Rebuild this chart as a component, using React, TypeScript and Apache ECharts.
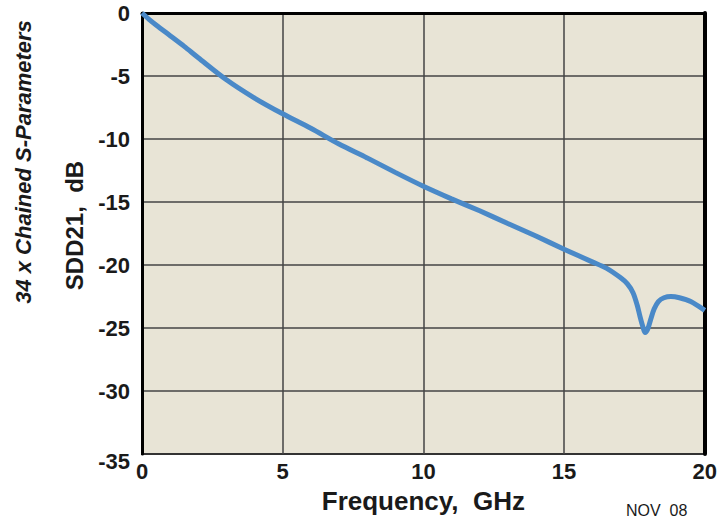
import React, { useEffect, useRef } from "react";
import * as echarts from "echarts";

const freqGHz = [0, 0.25, 0.5, 1, 1.5, 2, 3, 4, 5, 6, 7, 8, 9, 10, 11, 12, 13, 14, 15, 16, 16.5, 17, 17.25, 17.45, 17.6, 17.7, 17.8, 17.88, 17.97, 18.08, 18.2, 18.35, 18.55, 18.8, 19.1, 19.5, 20];
const sdd21dB = [0, -0.5, -0.95, -1.8, -2.65, -3.55, -5.3, -6.75, -8.0, -9.15, -10.4, -11.5, -12.65, -13.75, -14.75, -15.7, -16.7, -17.7, -18.75, -19.75, -20.25, -21.0, -21.5, -22.2, -23.2, -24.1, -24.9, -25.35, -25.1, -24.3, -23.5, -22.9, -22.6, -22.5, -22.6, -22.9, -23.6];
const xTicks = [0, 5, 10, 15, 20];
const yTicks = [0, -5, -10, -15, -20, -25, -30, -35];

const FONT = "'Liberation Sans', Arial, Helvetica, sans-serif";

export default function App() {
  const ref = useRef<HTMLDivElement>(null);
  useEffect(() => {
    if (!ref.current) return;
    const chart = echarts.init(ref.current, undefined, { renderer: "svg" });
    const data = freqGHz.map((f, i) => [f, sdd21dB[i]]);
    chart.setOption({
      animation: false,
      backgroundColor: "#ffffff",
      grid: {
        left: 142,
        top: 13,
        right: 12,
        bottom: 59,
        show: true,
        backgroundColor: "#e8e4d6",
        borderColor: "#000000",
        borderWidth: 2,
      },
      xAxis: {
        type: "value",
        min: xTicks[0],
        max: xTicks[xTicks.length - 1],
        interval: 5,
        name: "Frequency,  GHz",
        nameLocation: "middle",
        nameGap: 34,
        nameTextStyle: { fontFamily: FONT, fontWeight: "bold", fontSize: 26, color: "#1a1a1a" },
        axisLine: { show: true, lineStyle: { color: "#000", width: 3 } },
        axisTick: { show: false },
        axisLabel: { fontFamily: FONT, fontWeight: "bold", fontSize: 22, color: "#1a1a1a", margin: 6 },
        splitLine: { show: true, lineStyle: { color: "#444444", width: 1.5 } },
      },
      yAxis: [
        {
          type: "value",
          min: yTicks[yTicks.length - 1],
          max: yTicks[0],
          interval: 5,
          name: "SDD21,  dB",
          nameLocation: "middle",
          nameRotate: 90,
          nameGap: 56,
          nameTextStyle: {
            fontFamily: FONT,
            fontWeight: "bold",
            fontSize: 24,
            color: "#1a1a1a",
            padding: [0, 0, 0, 16],
          },
          axisLine: { show: true, lineStyle: { color: "#000", width: 3 } },
          axisTick: { show: false },
          axisLabel: {
            fontFamily: FONT,
            fontWeight: "bold",
            fontSize: 22,
            color: "#1a1a1a",
            margin: 12,
            formatter: (v: number) => (v === -35 ? "{low|-35}" : String(v)),
            rich: { low: { fontFamily: FONT, fontWeight: "bold", fontSize: 22, color: "#1a1a1a", padding: [14, 0, 0, 0] } },
          },
          splitLine: { show: true, lineStyle: { color: "#444444", width: 1.5 } },
        },
        {
          type: "value",
          position: "right",
          min: -35,
          max: 0,
          interval: 5,
          axisLine: { show: true, lineStyle: { color: "#000", width: 4 } },
          axisTick: { show: false },
          axisLabel: { show: false },
          splitLine: { show: false },
        },
      ],
      series: [
        {
          type: "line",
          data,
          showSymbol: false,
          smooth: 0.3,
          lineStyle: { color: "#4a89c8", width: 5 },
          itemStyle: { color: "#4a89c8" },
          z: 5,
        },
      ],
      graphic: [
        {
          type: "text",
          x: 23,
          y: 162,
          rotation: Math.PI / 2,
          style: {
            text: "34 x Chained S-Parameters",
            fontFamily: FONT,
            fontWeight: "bold",
            fontStyle: "italic",
            fontSize: 22,
            fill: "#1a1a1a",
            align: "center",
            verticalAlign: "middle",
          },
        },
        {
          type: "text",
          x: 626,
          y: 502,
          style: {
            text: "NOV  08",
            fontFamily: FONT,
            fontSize: 16,
            fill: "#1a1a1a",
            align: "left",
            verticalAlign: "top",
          },
        },
      ],
    });
    return () => chart.dispose();
  }, []);
  return (
    <div
      ref={ref}
      style={{ position: "fixed", left: 0, top: 0, width: 720, height: 519, background: "#fff" }}
    />
  );
}
